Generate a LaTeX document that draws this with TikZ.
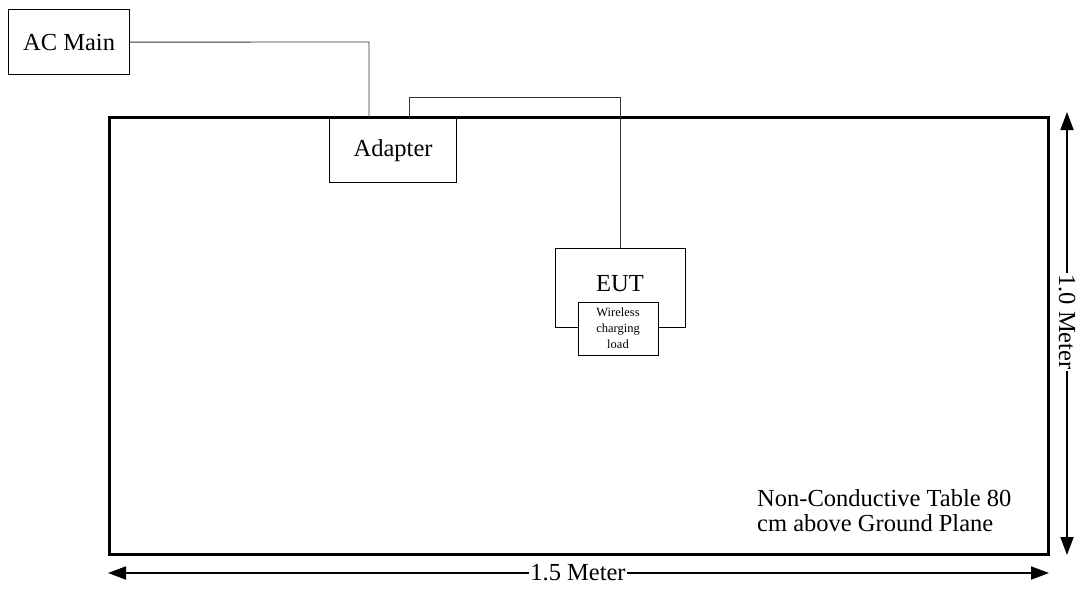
\documentclass[tikz,border=0pt]{standalone}
\usepackage{fontspec}
\setmainfont{Liberation Serif}
\usetikzlibrary{arrows.meta}
\begin{document}
\begin{tikzpicture}[x=1pt,y=-1pt,
  box/.style={draw, line width=1.2pt, inner sep=0pt, anchor=north west},
  wire/.style={draw, line width=0.9pt, color=black!80},
  big/.style={font=\fontsize{24.5}{25}\selectfont},
  dim/.style={line width=1.8pt, {Triangle[length=18pt,width=13pt]}-{Triangle[length=18pt,width=13pt]}}]
\useasboundingbox (0,0) rectangle (1076,589);
% table
\node[box, line width=3pt, minimum width=939pt, minimum height=437pt] (table) at (108,116) {};
% AC main
\node[box, minimum width=121pt, minimum height=65pt, big] (ac) at (8,9) {AC Main};
% adapter
\node[box, minimum width=127pt, minimum height=64pt, big, fill=white] (adp) at (329,118) {Adapter};
% EUT
\node[box, minimum width=130pt, minimum height=79pt] (eut) at (555,248) {};
\node[big] (euttext) at (620,284) {EUT};
\node[box, minimum width=80pt, minimum height=53pt, fill=white] (wl) at (578,302) {};
\node[font=\fontsize{12.5}{16}\selectfont, align=center] (wltext) at (618,328) {Wireless\\charging\\load};
% wires
\coordinate (w1) at (369,42);
\draw[wire] (ac.east) -- (w1) -- (w1 |- adp.north);
\coordinate (a2) at (409,97);
\coordinate (a3) at (620,97);
\draw[wire] (a2 |- adp.north) -- (a2) -- (a3) -- (a3 |- eut.north);
% note
\node[align=left, anchor=base west, font=\fontsize{24.5}{25}\selectfont, inner sep=0pt] (note) at (757,531) {Non-Conductive Table 80\\cm above Ground Plane};
% dimensions
\coordinate (h1) at (108,573);
\coordinate (h2) at (1049,573);
\draw[dim] (h1) -- (h2);
\node[big, fill=white, inner sep=1pt] (hl) at (578,573) {1.5 Meter};
\coordinate (v1) at (1067,112);
\coordinate (v2) at (1067,555);
\draw[dim] (v1) -- (v2);
\node[big, fill=white, inner sep=1pt, rotate=-90] (vl) at (1067,322) {1.0 Meter};
\end{tikzpicture}
\end{document}
